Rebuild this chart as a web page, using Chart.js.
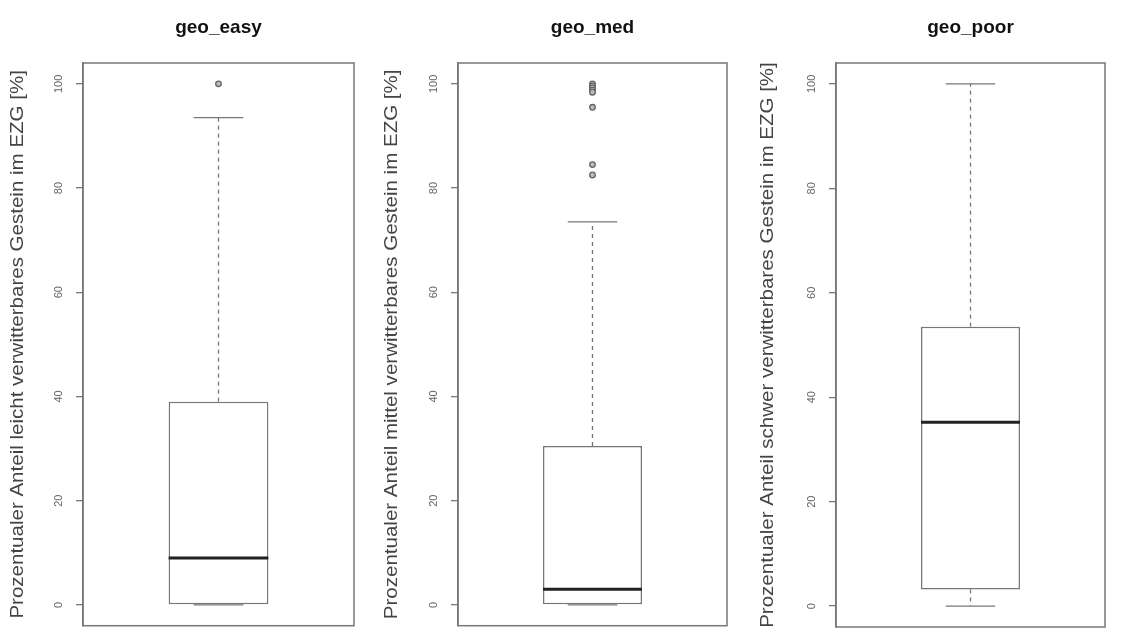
<!DOCTYPE html>
<html lang="de">
<head>
  <meta charset="UTF-8" />
  <title>Gesteinsanteile im EZG</title>
  <script src="https://cdn.jsdelivr.net/npm/chart.js"></script>
  <style>
    body { margin: 0; background: #fff; }
    .panel { position: absolute; top: 0; width: 370px; height: 631px; }
  </style>
</head>
<body>
  <div class="panel" style="left:0px"><canvas id="c0" width="370" height="631"></canvas></div>
  <div class="panel" style="left:375px"><canvas id="c1" width="370" height="631"></canvas></div>
  <div class="panel" style="left:753px"><canvas id="c2" width="370" height="631"></canvas></div>

  <script>
    // boxplot statistics per weathering class
    const panelNames = ['geo_easy', 'geo_med', 'geo_poor'];
    const axisTitles = [
      'Prozentualer Anteil leicht verwitterbares Gestein im EZG [%]',
      'Prozentualer Anteil mittel verwitterbares Gestein im EZG [%]',
      'Prozentualer Anteil schwer verwitterbares Gestein im EZG [%]'
    ];
    const whiskerLow = [0, 0, 0];
    const q1 = [0, 0, 3.2];
    const medians = [9, 3, 35.2];
    const q3 = [39, 30.5, 53.5];
    const whiskerHigh = [93.5, 73.5, 100];
    const outliers = [
      [100],
      [100, 99.6, 99.2, 98.8, 98.4, 95.5, 84.5, 82.5],
      []
    ];
    const yTicks = [0, 20, 40, 60, 80, 100];

    const rightPad = [16, 18, 18];
    const titleX = [18, 17, 15];
    const grey = '#777';
    const fontFamily = '"Liberation Sans", Arial, sans-serif';

    function seg(ctx, x1, y1, x2, y2) {
      ctx.beginPath();
      ctx.moveTo(x1, y1);
      ctx.lineTo(x2, y2);
      ctx.stroke();
    }

    // whiskers, caps, median, frame, tick labels, axis title and panel title
    const boxParts = {
      id: 'boxParts',
      afterDatasetsDraw(chart, args, opts) {
        const i = opts.index;
        const ctx = chart.ctx;
        const y = chart.scales.y;
        const area = chart.chartArea;
        const bar = chart.getDatasetMeta(0).data[0];
        const cx = bar.x, half = bar.width / 2, cap = bar.width / 4;

        ctx.save();
        ctx.strokeStyle = grey;
        ctx.lineWidth = 1.3;
        ctx.setLineDash([4, 4]);
        seg(ctx, cx, y.getPixelForValue(q3[i]), cx, y.getPixelForValue(whiskerHigh[i]));
        seg(ctx, cx, y.getPixelForValue(q1[i]), cx, y.getPixelForValue(whiskerLow[i]));
        ctx.setLineDash([]);
        seg(ctx, cx - cap, y.getPixelForValue(whiskerHigh[i]), cx + cap, y.getPixelForValue(whiskerHigh[i]));
        seg(ctx, cx - cap, y.getPixelForValue(whiskerLow[i]), cx + cap, y.getPixelForValue(whiskerLow[i]));

        ctx.strokeStyle = '#222';
        ctx.lineWidth = 3;
        const ym = y.getPixelForValue(medians[i]);
        seg(ctx, cx - half, ym, cx + half, ym);

        // plot frame
        ctx.strokeStyle = grey;
        ctx.lineWidth = 1.5;
        ctx.strokeRect(area.left, area.top, area.right - area.left, area.bottom - area.top);

        // rotated tick labels
        ctx.fillStyle = '#666';
        ctx.font = '11px ' + fontFamily;
        ctx.textAlign = 'center';
        ctx.textBaseline = 'middle';
        yTicks.forEach(v => {
          ctx.save();
          ctx.translate(area.left - 24, y.getPixelForValue(v));
          ctx.rotate(-Math.PI / 2);
          ctx.fillText(String(v), 0, 0);
          ctx.restore();
        });

        // axis title, slightly stretched along its run
        ctx.save();
        ctx.fillStyle = '#444';
        ctx.font = '19px ' + fontFamily;
        ctx.translate(titleX[i], (area.top + area.bottom) / 2);
        ctx.rotate(-Math.PI / 2);
        ctx.scale(1.08, 1);
        ctx.fillText(axisTitles[i], 0, 0);
        ctx.restore();

        // panel title
        ctx.fillStyle = '#111';
        ctx.font = 'bold 19px ' + fontFamily;
        ctx.fillText(panelNames[i], (area.left + area.right) / 2, 28);
        ctx.restore();
      }
    };

    panelNames.forEach((name, i) => {
      new Chart(document.getElementById('c' + i), {
        type: 'bar',
        data: {
          labels: [name],
          datasets: [
            {
              data: [[q1[i], q3[i]]],
              backgroundColor: '#fff',
              borderColor: grey,
              borderWidth: 1.5,
              borderSkipped: false,
              barPercentage: 0.368,
              categoryPercentage: 1
            },
            {
              type: 'line',
              data: outliers[i].map(v => ({ x: name, y: v })),
              showLine: false,
              pointRadius: 2.8,
              pointBorderWidth: 1.3,
              pointBorderColor: '#666',
              pointBackgroundColor: '#bbb'
            }
          ]
        },
        options: {
          responsive: false,
          animation: false,
          layout: { padding: { top: 63, bottom: 4, left: 0, right: rightPad[i] } },
          plugins: {
            legend: { display: false },
            tooltip: { enabled: false },
            boxParts: { index: i }
          },
          scales: {
            x: { display: false },
            y: {
              min: -4,
              max: 104,
              afterBuildTicks: s => { s.ticks = yTicks.map(v => ({ value: v })); },
              afterFit: s => { s.width = 83; },
              ticks: { display: false },
              grid: { drawOnChartArea: false, drawTicks: true, tickLength: 7, color: grey, lineWidth: 1.3 },
              border: { display: true, color: grey, width: 1.5 }
            }
          }
        },
        plugins: [boxParts]
      });
    });
  </script>
</body>
</html>
